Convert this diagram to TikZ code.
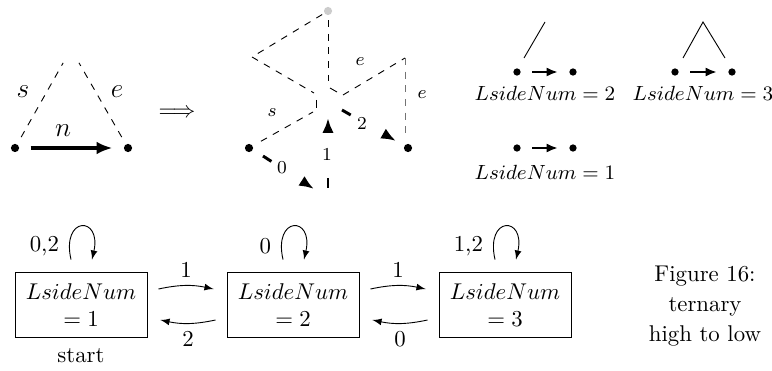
\documentclass[tikz,border=0pt]{standalone}
\usepackage{amsmath,amssymb}
\usetikzlibrary{positioning,calc,arrows.meta}

\begin{document}
\begin{tikzpicture}[
        x=0.4386pt,
        y=-0.4386pt,
        >=latex,
        dot/.style={
            circle,
            fill=black,
            inner sep=0pt,
            minimum size=3.6pt
        },
        guide/.style={
            dashed,
            line width=0.4pt
        },
        heavy/.style={
            -{Latex[length=6.5pt,width=5pt]},
            line width=1.3pt,
            dash pattern=on 4.4pt off 20pt
        },
        push/.style={
            -{Latex[length=5pt,width=4pt]},
            line width=1.3pt
        },
        statebox/.style={
            draw,
            align=center,
            inner sep=0pt,
            minimum width=57.9pt,
            minimum height=28.9pt
        },
        small label/.style={
            font=\fontsize{8}{9}\selectfont
        },
        tag/.style={
            font=\fontsize{8.7}{10}\selectfont
        }
    ]

    \useasboundingbox (0,0) rectangle (772,371);

    % Triangle before the split
    \node[dot] (a1) at (15,148) {};
    \node[dot] (a2) at (128,148) {};
    \coordinate (atop) at (71,49);

    \draw[guide] ($(a1)!0.11!(atop)$) -- ($(a1)!0.86!(atop)$);
    \draw[guide] ($(a2)!0.11!(atop)$) -- ($(a2)!0.86!(atop)$);
    \draw[-{Latex[length=7pt,width=5.6pt]}, line width=1.7pt, shorten <=4.8pt, shorten >=4.8pt] (a1) -- (a2);

    \node[font=\fontsize{12}{14}\selectfont] at (23,92) {$s$};
    \node[font=\fontsize{12}{14}\selectfont] at (117,92) {$e$};
    \node[font=\fontsize{12}{14}\selectfont] at (63,131) {$n$};

    \node (imp) at (177,113) {$\Longrightarrow$};

    % Ternary split
    \node[dot] (m1) at (249,148) {};
    \node[dot] (m2) at (408,148) {};
    \node[dot, fill=black!20] (m0) at (328,11) {};
    \coordinate (mL) at (252,57);
    \coordinate (mR) at (405,58);

    \draw[guide, shorten <=1pt] (m0) -- (mL) -- (314,93);
    \draw[guide, shorten <=2pt] (m0) -- (328,81);
    \draw (316,100) -- (316,108);
    \draw (330,88) -- (337,92);
    \draw[guide] (343,95) -- (mR);
    \draw[guide, black!55] (mR) -- (405,135);
    \draw[guide, shorten <=4pt] (m1) -- (313,112);

    \draw[heavy] (263,156) -- (314,189);
    \draw[heavy] (328,188) -- (328,118);
    \draw[heavy] (342,110) -- (396,141);

    \node[small label] at (272,113) {$s$};
    \node[small label] at (360,62) {$e$};
    \node[small label] at (422,95) {$e$};
    \node[small label] at (282,168) {$0$};
    \node[small label] at (327,155) {$1$};
    \node[small label] at (362,124) {$2$};

    % Cases for LsideNum
    \node[dot, minimum size=3.2pt] (b1) at (517,72) {};
    \node[dot, minimum size=3.2pt] (b2) at (573,72) {};
    \node[dot, minimum size=3.2pt] (c1) at (675,72) {};
    \node[dot, minimum size=3.2pt] (c2) at (732,72) {};
    \node[dot, minimum size=3.2pt] (d1) at (517,148) {};
    \node[dot, minimum size=3.2pt] (d2) at (573,148) {};

    \foreach \u/\v in {b1/b2,c1/c2,d1/d2}
        \draw[push, shorten <=4.8pt, shorten >=4.8pt] (\u) -- (\v);

    \draw (524,58) -- (545,22);
    \draw (683,58) -- (703,22) -- (725,58);

    \node[tag] at (545,93) {$LsideNum=2$};
    \node[tag] at (703,93) {$LsideNum=3$};
    \node[tag] at (545,172) {$LsideNum=1$};

    % Automaton
    \node[statebox] (s1) at (81,305) {$LsideNum$\\$=1$};
    \node[statebox] (s2) at (293,305) {$LsideNum$\\$=2$};
    \node[statebox] (s3) at (505,305) {$LsideNum$\\$=3$};

    \draw[->] ($(s1.east)+(11,-16)$) to[bend left=12] node[above] {$1$} ($(s2.west)+(-13,-16)$);
    \draw[->] ($(s2.west)+(-11,15)$) to[bend left=12] node[below] {$2$} ($(s1.east)+(13,15)$);
    \draw[->] ($(s2.east)+(11,-16)$) to[bend left=12] node[above] {$1$} ($(s3.west)+(-13,-16)$);
    \draw[->] ($(s3.west)+(-11,15)$) to[bend left=12] node[below] {$0$} ($(s2.east)+(13,15)$);

    % Self loops
    \foreach \s/\lab in {s1/{0,2},s2/0,s3/{1,2}} {
        \draw[->] ($(\s.north)+(-10,-12)$) .. controls +(-10,-44) and +(10,-44) .. ($(\s.north)+(11,-12)$);
        \node[anchor=east] at ($(\s.north)+(-14,-25)$) {\lab};
    }

    \node (lstart) [below=1pt of s1] {start};

    \node[align=center, font=\fontsize{10}{13}\selectfont] (cap) at (705,306) {Figure 16:\\ternary\\high to low};

\end{tikzpicture}
\end{document}
